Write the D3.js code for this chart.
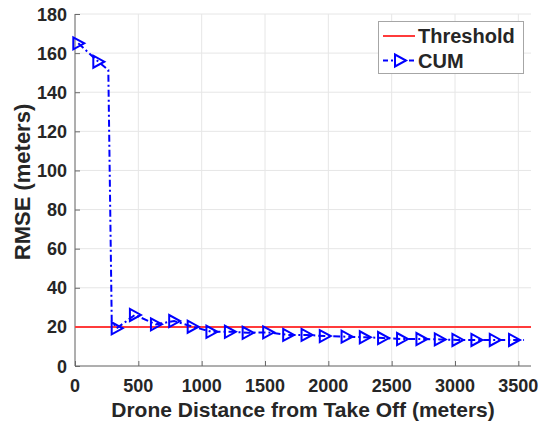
<!DOCTYPE html>
<html>
<head>
<meta charset="utf-8">
<script src="https://cdn.jsdelivr.net/npm/d3@7"></script>
<style>
  body { margin: 0; background: #fff; }
  text { font-family: "Liberation Sans", Arial, Helvetica, sans-serif; font-weight: bold; fill: #262626; }
</style>
</head>
<body>
<script>
const width = 547;
const height = 427;

// data
const distance = [26, 184, 263, 290, 329, 473, 639, 783, 929, 1077, 1223, 1363, 1525, 1683, 1828, 1972,
                  2144, 2288, 2432, 2582, 2735, 2880, 3019, 3169, 3314, 3466, 3545];
const rmse = [165.0, 155.6, 151.4, 23.0, 19.3, 26.1, 21.3, 23.0, 20.1, 17.5, 17.5, 17.0, 17.2, 15.9, 15.9, 15.3,
              15.0, 14.7, 14.3, 13.8, 13.8, 13.6, 13.3, 13.3, 13.3, 13.3, 13.3];
// points that carry a marker (1) or not (0)
const hasMarker = [1, 1, 0, 0, 1, 1, 1, 1, 1, 1, 1, 1, 1, 1, 1, 1,
                   1, 1, 1, 1, 1, 1, 1, 1, 1, 1, 0];
const threshold = 20;
const xTicks = [0, 500, 1000, 1500, 2000, 2500, 3000, 3500];
const yTicks = [0, 20, 40, 60, 80, 100, 120, 140, 160, 180];
const legendLabels = ["Threshold", "CUM"];

const plotL = 75, plotR = 531, plotT = 14, plotB = 366;

let svg = d3.select("body").append("svg").attr("width", width).attr("height", height);

let x = d3.scaleLinear().domain([0, 3600]).range([plotL, plotR]);
let y = d3.scaleLinear().domain([0, 180]).range([plotB, plotT]);

// grid
svg.append("g").selectAll("line").data(xTicks).enter().append("line")
    .attr("x1", d => x(d)).attr("x2", d => x(d))
    .attr("y1", plotT).attr("y2", plotB)
    .attr("stroke", "#e6e6e6").attr("stroke-width", 1);
svg.append("g").selectAll("line").data(yTicks).enter().append("line")
    .attr("x1", plotL).attr("x2", plotR)
    .attr("y1", d => y(d)).attr("y2", d => y(d))
    .attr("stroke", "#e6e6e6").attr("stroke-width", 1);

// axes (ticks point inward)
let xAxis = svg.append("g").attr("transform", `translate(0,${plotB})`)
    .call(d3.axisTop(x).tickValues(xTicks).tickSize(5).tickFormat(""));
let yAxis = svg.append("g").attr("transform", `translate(${plotL},0)`)
    .call(d3.axisRight(y).tickValues(yTicks).tickSize(5).tickFormat(""));
[xAxis, yAxis].forEach(a => {
    a.selectAll("path").attr("stroke", "#6a6a6a").attr("stroke-width", 1);
    a.selectAll("line").attr("stroke", "#6a6a6a");
});
xAxis.select("path").attr("d", `M${plotL},0H${plotR}`);
yAxis.select("path").attr("d", `M0,${plotT}V${plotB}`);

// tick labels
svg.append("g").selectAll("text").data(xTicks).enter().append("text")
    .attr("x", d => x(d)).attr("y", 392)
    .attr("text-anchor", "middle").style("font-size", "18px")
    .text(d => d);
svg.append("g").selectAll("text").data(yTicks).enter().append("text")
    .attr("x", 67).attr("y", d => y(d) + 6.5)
    .attr("text-anchor", "end").style("font-size", "18px")
    .text(d => d);

// axis titles
svg.append("text").attr("x", (plotL + plotR) / 2).attr("y", 417)
    .attr("text-anchor", "middle").style("font-size", "21px")
    .text("Drone Distance from Take Off (meters)");
svg.append("text").attr("transform", "translate(30,182) rotate(-90)")
    .attr("text-anchor", "middle").style("font-size", "22px")
    .text("RMSE (meters)");

// threshold line
svg.append("line")
    .attr("x1", plotL).attr("x2", plotR)
    .attr("y1", y(threshold)).attr("y2", y(threshold))
    .attr("stroke", "#ff3b3b").attr("stroke-width", 2);

// CUM line
const pts = distance.map((d, i) => ({ d: d, r: rmse[i], m: hasMarker[i] }));
let line = d3.line().x(p => x(p.d)).y(p => y(p.r));
svg.append("path").datum(pts)
    .attr("d", line)
    .attr("fill", "none").attr("stroke", "#0000ff").attr("stroke-width", 2)
    .attr("stroke-dasharray", "7,3,2,3");

const tri = "M-5,-6L-5,6L6,0Z";
svg.append("g").selectAll("path").data(pts.filter(p => p.m)).enter().append("path")
    .attr("d", tri)
    .attr("transform", p => `translate(${x(p.d)},${y(p.r)})`)
    .attr("fill", "none").attr("stroke", "#0000ff").attr("stroke-width", 2);

// legend
let lg = svg.append("g");
lg.append("rect").attr("x", 378.5).attr("y", 21.5).attr("width", 145).attr("height", 52)
    .attr("fill", "#fff").attr("stroke", "#a6a6a6").attr("stroke-width", 1);
lg.append("line").attr("x1", 383).attr("x2", 415).attr("y1", 36).attr("y2", 36)
    .attr("stroke", "#ff3b3b").attr("stroke-width", 2);
lg.append("line").attr("x1", 383).attr("x2", 415).attr("y1", 60.5).attr("y2", 60.5)
    .attr("stroke", "#0000ff").attr("stroke-width", 2).attr("stroke-dasharray", "5,3,2,3");
lg.append("path").attr("d", tri).attr("transform", "translate(400,60.5)")
    .attr("fill", "#fff").attr("stroke", "#0000ff").attr("stroke-width", 2);
lg.selectAll("text.lab").data(legendLabels).enter().append("text")
    .attr("x", 418).attr("y", (d, i) => 43 + i * 24.5)
    .style("font-size", "20px")
    .text(d => d);
</script>
</body>
</html>
